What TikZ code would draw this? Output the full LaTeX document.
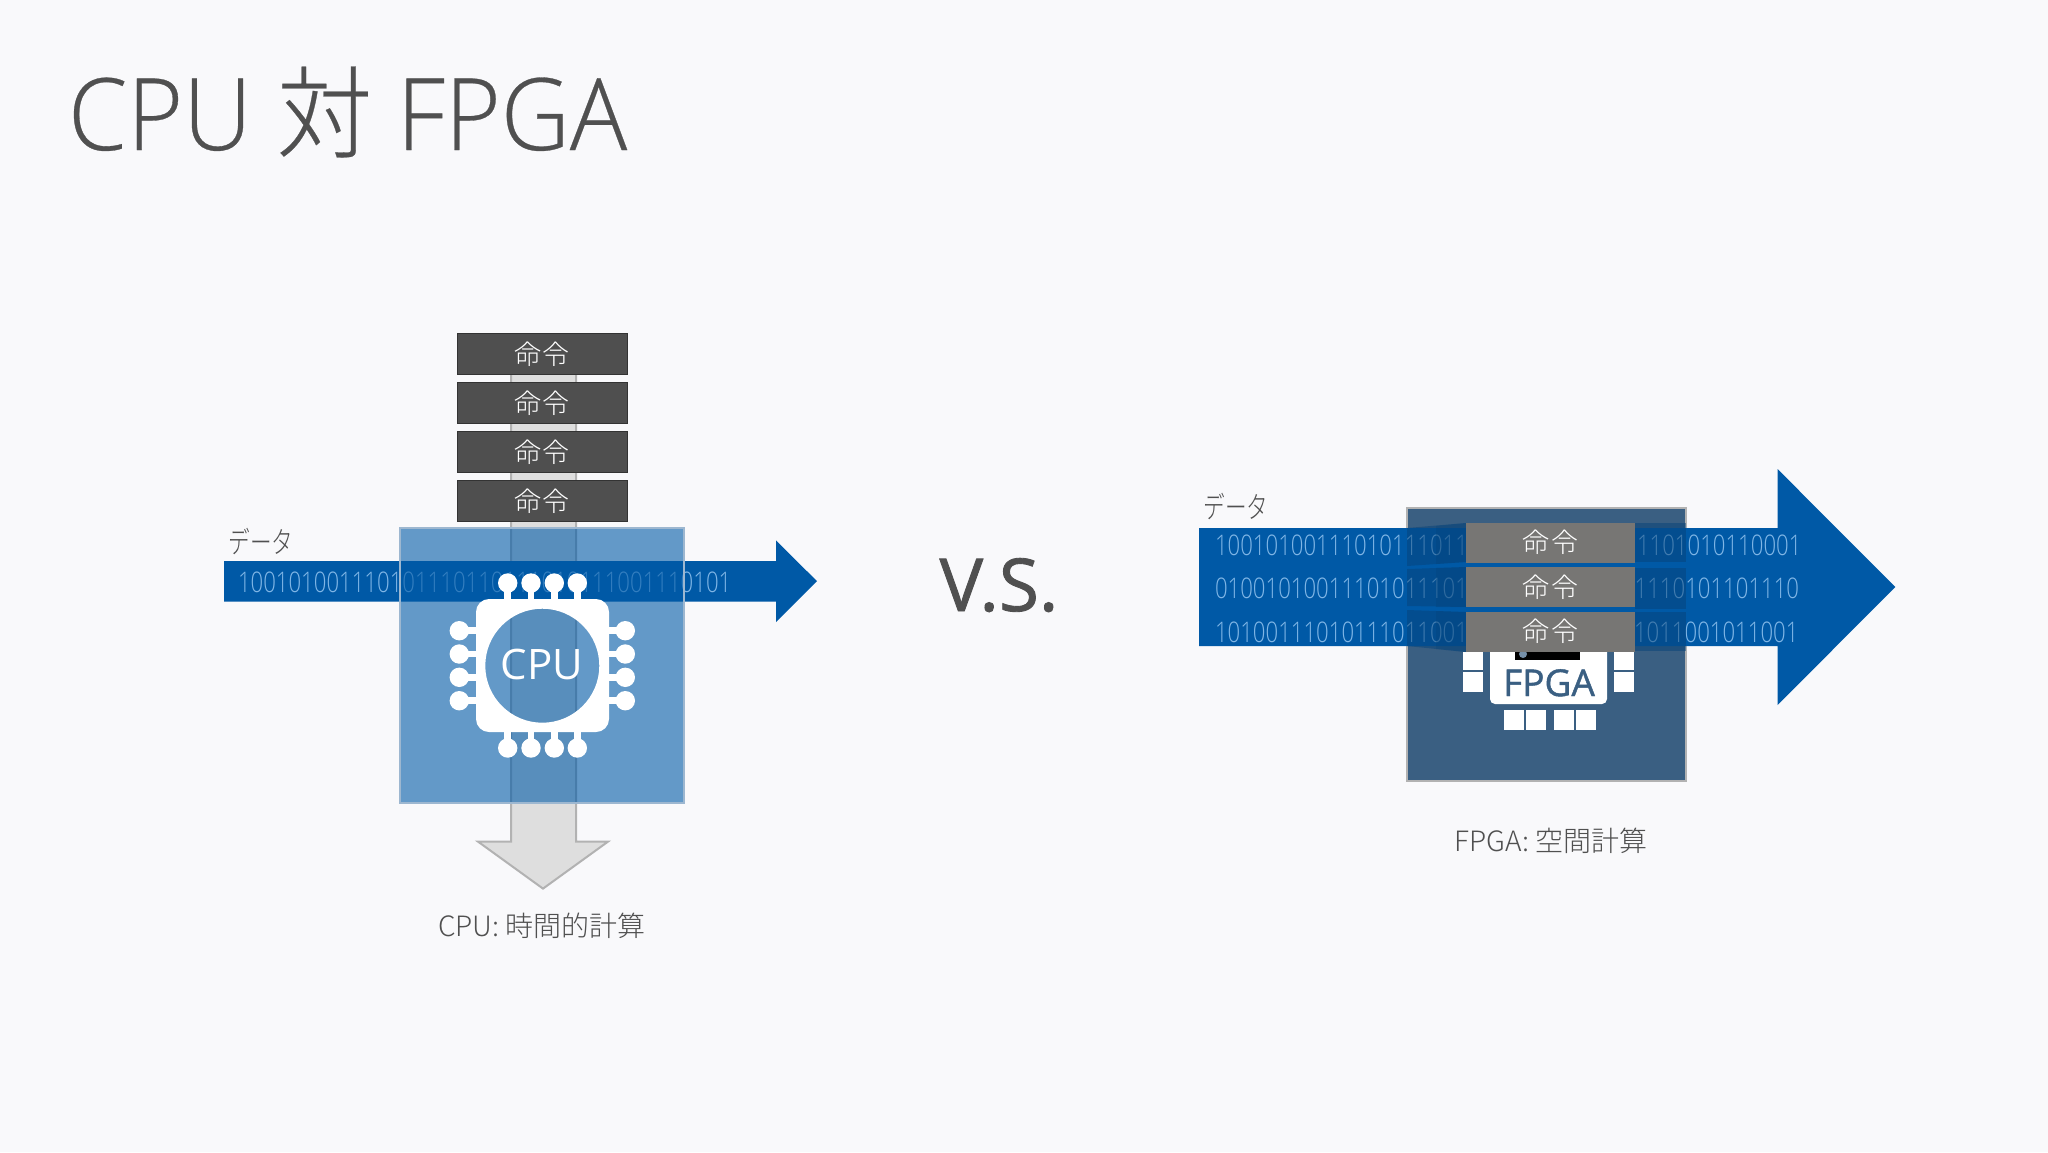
\documentclass[tikz,border=0pt]{standalone}
\usepackage{fontspec}
\setmainfont{Open Sans Light}
\newfontfamily\titlef{Open Sans Light}[FakeStretch=0.955,FakeBold=0.3]
\newfontfamily\digf{Open Sans Light}[FakeStretch=0.78]
\newfontfamily\regf{Open Sans}
\newfontfamily\semif{Open Sans}[FakeBold=1.2]
\newfontfamily\cjk{Noto Sans CJK JP Light}
\newfontfamily\cjkt{Noto Sans CJK JP Light}[FakeStretch=0.955,FakeBold=0.3]
\newfontfamily\cjkn{Noto Sans CJK JP Light}[FakeStretch=0.72]
\usetikzlibrary{shapes.geometric}
\definecolor{bg}{HTML}{F9F9FB}
\definecolor{dblue}{HTML}{0059A6}
\definecolor{dtext}{HTML}{80B6E6}
\definecolor{ink}{HTML}{505050}
\definecolor{boxd}{HTML}{4F4F4F}
\definecolor{boxg}{HTML}{777674}
\definecolor{fpgab}{HTML}{3A5F82}
\definecolor{beam}{HTML}{06437A}
\definecolor{sqedge}{HTML}{9DB7D0}
\tikzset{x=0.5pt,y=-0.5pt,
 every node/.style={inner sep=0pt,outer sep=0pt},
 instr/.style={minimum width=85pt,minimum height=20.5pt,draw=black!80!white,line width=0.5pt,fill=boxd,text=white,font=\cjk\fontsize{13.5}{13.5}\selectfont},
 instg/.style={minimum width=84.5pt,minimum height=20pt,fill=boxg,text=white,font=\cjk\fontsize{13.5}{13.5}\selectfont},
 digits/.style={anchor=base west,text=dtext,font=\digf\fontsize{14.2}{15}\selectfont},
 lbl/.style={text=ink,font=\cjk\fontsize{14}{14}\selectfont},
 kana/.style={text=ink,font=\cjkn\fontsize{15}{15}\selectfont},
 sq/.style={fill=white},
 beamf/.style={fill=beam,fill opacity=0.5}
}
\begin{document}
\begin{tikzpicture}
\useasboundingbox (0,0) rectangle (2048,1152);
\fill[bg] (0,0) rectangle (2048,1152);
\node[anchor=base west,text=ink,font=\titlef\fontsize{50}{50}\selectfont] (title) at (68,150) {CPU {\cjkt 対} FPGA};
\node[anchor=base,text=ink,font=\semif\fontsize{36.5}{37}\selectfont] (vs) at (999,611) {V.S.};
% CPU side
\draw[line width=1pt,draw=black!30,fill=black!13] (511,334) -- (576,334) -- (576,841.6) -- (608,841.6) -- (543,888.6) -- (478,841.6) -- (511,841.6) -- cycle;
\fill[dblue] (224,561) -- (776,561) -- (776,540.4) -- (817,581.2) -- (776,622) -- (776,601.6) -- (224,601.6) -- cycle;
\node[digits] (d0) at (238,592) {100101001110101110110111010111001110101};
\fill[dblue,fill opacity=0.6] (400,528.2) rectangle (684,802.9);
\draw[sqedge,line width=0.8pt] (400,528.2) rectangle (684,802.9);
% chip
\fill[white,even odd rule] {[rounded corners=6.5pt] (476,599) rectangle (609,732)} (542.3,665.7) circle[radius=57];
\foreach \p in {507.7,531,554.3,577.3}{
 \fill[white] (\p,583) circle[radius=9.7];
 \fill[white] (\p-3.4,583) rectangle (\p+3.4,600);
 \fill[white] (\p,748) circle[radius=9.7];
 \fill[white] (\p-3.4,731) rectangle (\p+3.4,748);
}
\foreach \p in {630.7,654,677.3,700.7}{
 \fill[white] (459.3,\p) circle[radius=9.7];
 \fill[white] (459.3,\p-3.4) rectangle (477,\p+3.4);
 \fill[white] (625.3,\p) circle[radius=9.7];
 \fill[white] (608,\p-3.4) rectangle (625.3,\p+3.4);
}
\node[text=white,font=\regf\fontsize{21}{21}\selectfont] (cpu) at (542,664) {CPU};
\node[instr] (i1) at (542,354) {命\hspace{0.6pt}令};
\node[instr] (i2) at (542,403) {命\hspace{0.6pt}令};
\node[instr] (i3) at (542,452) {命\hspace{0.6pt}令};
\node[instr] (i4) at (542,501) {命\hspace{0.6pt}令};
\node[kana] (dl) at (261,542) {データ};
\node[lbl] (cl) at (542,926) {CPU: 時間的計算};
% FPGA side
\draw[fill=fpgab,draw=black!30,line width=1pt] (1407,508) rectangle (1686,781);
\fill[white,rounded corners=2.5pt] (1490,640) rectangle (1607,704);
\fill[black] (1515,640) rectangle (1580,660);
\fill[fpgab!70!white] (1523,654) circle[radius=4];
\foreach \xa in {1504,1526,1554,1576}{\fill[sq] (\xa,710) rectangle (\xa+19.5,730);}
\foreach \xa in {1463,1614}{\fill[sq] (\xa,652) rectangle (\xa+20,670);\fill[sq] (\xa,672) rectangle (\xa+20,692);}
\node[anchor=base,text=fpgab,font=\semif\fontsize{18.5}{18.5}\selectfont] (fp) at (1549,696) {FPGA};
\fill[dblue] (1199,528) -- (1777.5,528) -- (1777.5,469) -- (1895.4,587) -- (1777.5,705) -- (1777.5,646) -- (1199,646) -- cycle;
\node[digits] (d1) at (1215,555) {100101001110101110110};
\node[digits] (d2) at (1215,598.5) {010010100111010111011};
\node[digits] (d3) at (1215,642.5) {101001110101110110011};
\node[digits] (d4) at (1637,555) {1101010110001};
\node[digits] (d5) at (1622,598.5) {01110101101110};
\node[digits] (d6) at (1634,642.5) {1011001011001};
% beams
\fill[beamf] (1407,528) -- (1466,523) -- (1466,562) -- (1407,566) -- cycle;
\fill[beamf] (1407,569) -- (1466,567) -- (1466,607) -- (1407,606) -- cycle;
\fill[beamf] (1407,610) -- (1466,612) -- (1466,652) -- (1407,646) -- cycle;
\fill[beamf,fill opacity=0.3] (1436,526) -- (1466,523) -- (1466,562) -- (1436,564) -- cycle;
\fill[beamf,fill opacity=0.3] (1436,568) -- (1466,567) -- (1466,607) -- (1436,607) -- cycle;
\fill[beamf,fill opacity=0.3] (1436,611) -- (1466,612) -- (1466,652) -- (1436,649) -- cycle;
\fill[beamf] (1635,523) rectangle (1686,562);
\fill[beamf] (1635,568) rectangle (1686,609);
\fill[beamf] (1635,612) rectangle (1686,651);
\node[instg] (g1) at (1550.5,542.5) {\raisebox{-0.5pt}{命\hspace{0.6pt}令}};
\node[instg] (g2) at (1550.5,587) {\raisebox{-0.5pt}{命\hspace{0.6pt}令}};
\node[instg] (g3) at (1550.5,631.5) {\raisebox{-0.5pt}{命\hspace{0.6pt}令}};
\node[kana] (dr) at (1236,507) {データ};
\node[lbl] (fl) at (1551,841) {FPGA: 空間計算};
\end{tikzpicture}
\end{document}
